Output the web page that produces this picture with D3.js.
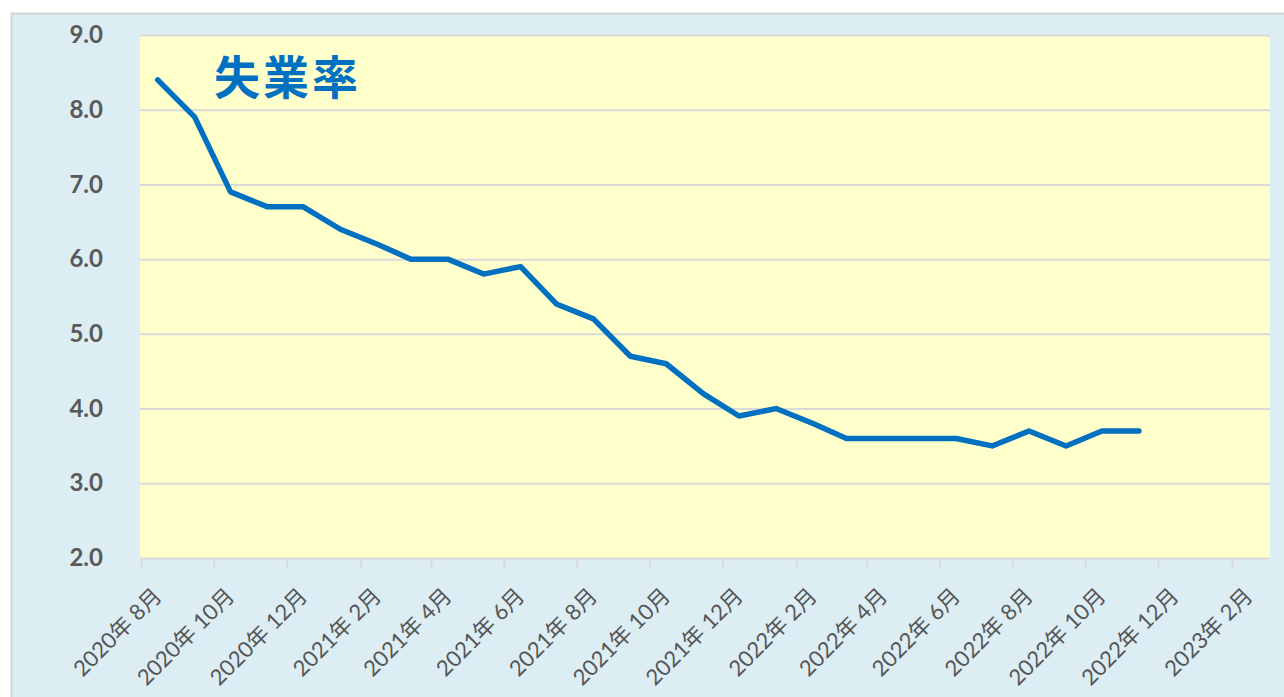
<!DOCTYPE html>
<html><head><meta charset="utf-8">
<script src="https://cdn.jsdelivr.net/npm/d3@7"></script>
<style>
html,body{margin:0;padding:0;background:#fff;}
svg{display:block;}
</style></head>
<body>
<svg id="chart" width="1284" height="697"></svg>
<script>
const months = ["2020-08","2020-09","2020-10","2020-11","2020-12","2021-01","2021-02","2021-03","2021-04","2021-05","2021-06","2021-07","2021-08","2021-09","2021-10","2021-11","2021-12","2022-01","2022-02","2022-03","2022-04","2022-05","2022-06","2022-07","2022-08","2022-09","2022-10","2022-11"];
const unemployment = [8.4,7.9,6.9,6.7,6.7,6.4,6.2,6.0,6.0,5.8,5.9,5.4,5.2,4.7,4.6,4.2,3.9,4.0,3.8,3.6,3.6,3.6,3.6,3.5,3.7,3.5,3.7,3.7];
const xTickMonths = ["2020-08","2020-10","2020-12","2021-02","2021-04","2021-06","2021-08","2021-10","2021-12","2022-02","2022-04","2022-06","2022-08","2022-10","2022-12","2023-02"];
const yTicks = [2,3,4,5,6,7,8,9];
const title = "失業率";

const svg = d3.select("#chart");
const parseM = d3.timeParse("%Y-%m");
const W = 1284, H = 697;

// outer chart area
svg.append("rect").attr("x", 11.5).attr("y", 13.5).attr("width", W).attr("height", H)
  .attr("fill", "#dcedf4").attr("stroke", "#d4d4d4").attr("stroke-width", 2);

const plot = {left: 140, right: 1270, top: 35, bottom: 558};
const x = d3.scaleTime()
  .domain([parseM("2020-08"), parseM("2023-02")])
  .range([141, 1232]);
const y = d3.scaleLinear().domain([2, 9]).range([plot.bottom, plot.top]);

svg.append("rect").attr("x", plot.left).attr("y", plot.top)
  .attr("width", plot.right - plot.left).attr("height", plot.bottom - plot.top)
  .attr("fill", "#ffffcc");

// gridlines
const yAxis = d3.axisLeft(y).tickValues(yTicks).tickSize(-(plot.right - plot.left)).tickFormat(d3.format(".1f")).tickPadding(37);
const gy = svg.append("g").attr("transform", `translate(${plot.left},0)`).call(yAxis);
gy.select(".domain").remove();
gy.selectAll(".tick line").attr("stroke", "#d9d9d9").attr("stroke-width", 2);
gy.selectAll(".tick text").attr("fill", "#595959")
  .style("font-family", "Lato, 'Noto Sans', sans-serif").style("font-weight", 700).style("font-size", "24px");

// x axis
const xAxis = d3.axisBottom(x).tickValues(xTickMonths.map(parseM)).tickSize(9).tickFormat("");
const gx = svg.append("g").attr("transform", `translate(0,${plot.bottom})`).call(xAxis);
gx.select(".domain").remove();
gx.selectAll(".tick line").attr("stroke", "#d9d9d9").attr("stroke-width", 2);
gx.selectAll(".tick").append("text")
  .attr("transform", "translate(16,34) rotate(-45)")
  .attr("text-anchor", "end").attr("dy", "0.35em")
  .attr("fill", "#555555")
  .style("font-family", "Lato, 'Noto Sans CJK JP', sans-serif").style("font-weight", 400).style("font-size", "22px")
  .text(d => d3.timeFormat("%Y")(d) + "年 " + (+d3.timeFormat("%m")(d)) + "月");

// line
const data = months.map((m, i) => ({date: d3.timeDay.offset(parseM(m), 14), v: unemployment[i]}));
const line = d3.line().x(d => x(d.date)).y(d => y(d.v));
svg.append("path").datum(data).attr("d", line)
  .attr("fill", "none").attr("stroke", "#0070c0").attr("stroke-width", 5.5)
  .attr("stroke-linejoin", "round").attr("stroke-linecap", "round");

// title
svg.append("text").attr("x", 214).attr("y", 94).text(title)
  .attr("fill", "#0070c0").attr("letter-spacing", "3px")
  .style("font-family", "'Noto Sans CJK JP', sans-serif").style("font-weight", 700).style("font-size", "46px");
</script>
</body></html>
